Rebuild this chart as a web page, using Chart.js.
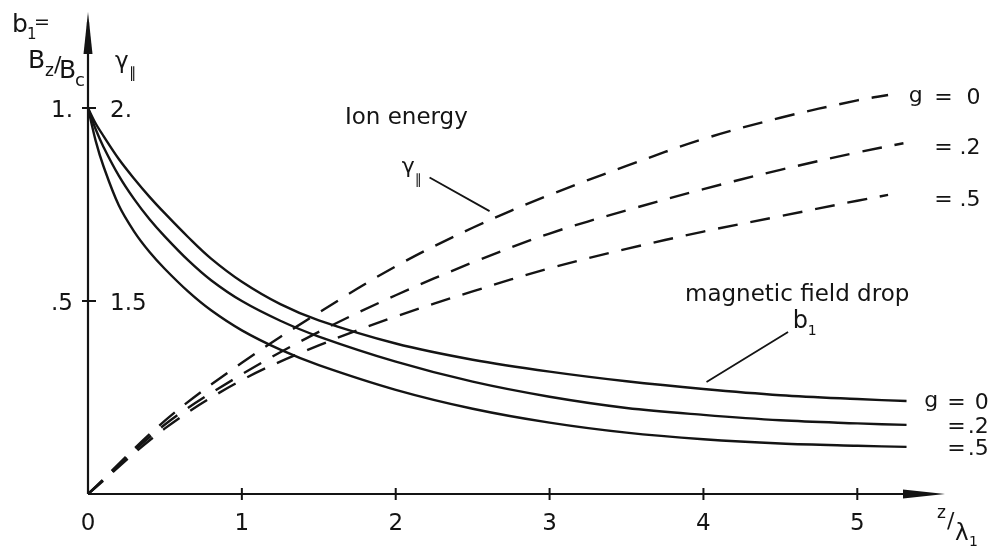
<!DOCTYPE html>
<html>
<head>
<meta charset="utf-8">
<title>Magnetic field drop and ion energy</title>
<script src="https://cdn.jsdelivr.net/npm/chart.js@4.4.0/dist/chart.umd.min.js"></script>
<style>
  html, body { margin: 0; padding: 0; background: #fff; }
  .chart-box { width: 989px; height: 549px; position: relative; }
</style>
</head>
<body>
<div class="chart-box"><canvas id="fieldChart"></canvas></div>
<script>
// z / lambda_1 positions of the magnetic field curves (solid)
const zField = [0, 0.05, 0.1, 0.2, 0.3, 0.4, 0.5, 0.65, 0.8, 1, 1.25, 1.5, 2, 2.5, 3, 3.5, 4, 4.5, 5, 5.32];
// b1 = Bz/Bc for g = 0, .2, .5
const fieldG0  = [1, 0.96, 0.928, 0.868, 0.817, 0.77, 0.727, 0.666, 0.61, 0.55, 0.492, 0.45, 0.39, 0.348, 0.317, 0.292, 0.272, 0.256, 0.246, 0.241];
const fieldG02 = [1, 0.945, 0.9, 0.825, 0.764, 0.712, 0.667, 0.606, 0.554, 0.5, 0.449, 0.408, 0.343, 0.291, 0.252, 0.223, 0.205, 0.191, 0.183, 0.179];
const fieldG05 = [1, 0.915, 0.85, 0.748, 0.68, 0.627, 0.583, 0.525, 0.476, 0.424, 0.374, 0.334, 0.27, 0.221, 0.185, 0.159, 0.142, 0.131, 0.125, 0.122];

// ion energy gamma_par (dashed), right hand scale
const zEnergyG0  = [0, 0.5, 1, 1.5, 2, 2.5, 3, 3.5, 4, 4.5, 5, 5.2];
const zEnergyG02 = [0, 0.5, 1, 1.5, 2, 2.5, 3, 3.5, 4, 4.5, 5, 5.3];
const zEnergyG05 = [0, 0.5, 1, 1.5, 2, 2.5, 3, 3.5, 4, 4.5, 5, 5.2];
const energyG0  = [1, 1.19, 1.34, 1.47, 1.59, 1.69, 1.775, 1.85, 1.92, 1.975, 2.02, 2.034];
const energyG02 = [1, 1.18, 1.31, 1.42, 1.515, 1.6, 1.675, 1.735, 1.79, 1.84, 1.885, 1.909];
const energyG05 = [1, 1.17, 1.295, 1.385, 1.46, 1.525, 1.585, 1.635, 1.68, 1.72, 1.76, 1.775];

// axes
const xTickValues = [0, 1, 2, 3, 4, 5];
const xTickLabels = ['0', '1', '2', '3', '4', '5'];
const bTickValues = [0.5, 1];
const bTickLabels = ['.5', '1.'];
const gammaTickLabels = ['1.5', '2.'];
const gValues = ['0', '.2', '.5'];

const INK = '#141414';
const FONT = '"DejaVu Sans", sans-serif';

function points(xs, ys) {
    return xs.map(function(x, i) { return { x: x, y: ys[i] }; });
}

function solid(data) {
    return { data: data, yAxisID: 'y', borderColor: INK, borderWidth: 2.4,
             pointRadius: 0, tension: 0.35, fill: false };
}

function dashed(data) {
    return { data: data, yAxisID: 'y2', borderColor: INK, borderWidth: 2.4,
             borderDash: [20, 13], pointRadius: 0, tension: 0.35, fill: false };
}

// one piece of text at a given size
function put(ctx, text, size, px, py) {
    ctx.font = size + 'px ' + FONT;
    ctx.fillText(text, px, py);
}

const handAxes = {
    id: 'handAxes',
    afterDraw(chart) {
        const ctx = chart.ctx;
        const xs = chart.scales.x, ys = chart.scales.y, y2 = chart.scales.y2;
        const X = function(v) { return xs.getPixelForValue(v); };
        const Y = function(v) { return ys.getPixelForValue(v); };
        const Y2 = function(v) { return y2.getPixelForValue(v); };
        const x0 = X(0), y0 = Y(0);
        const xEnd = X(xs.max), yEnd = Y(ys.max);

        ctx.save();
        ctx.strokeStyle = INK;
        ctx.fillStyle = INK;
        ctx.lineWidth = 2.2;

        // axis lines
        ctx.beginPath();
        ctx.moveTo(x0, y0); ctx.lineTo(x0, yEnd + 10);
        ctx.moveTo(x0, y0); ctx.lineTo(xEnd - 10, y0);
        ctx.stroke();

        // arrow heads
        ctx.beginPath();
        ctx.moveTo(x0, yEnd); ctx.lineTo(x0 - 4.5, yEnd + 42); ctx.lineTo(x0 + 4.5, yEnd + 42);
        ctx.closePath(); ctx.fill();
        ctx.beginPath();
        ctx.moveTo(xEnd, y0); ctx.lineTo(xEnd - 42, y0 - 4.5); ctx.lineTo(xEnd - 42, y0 + 4.5);
        ctx.closePath(); ctx.fill();

        // ticks
        ctx.lineWidth = 2;
        ctx.beginPath();
        xTickValues.slice(1).forEach(function(v) {
            ctx.moveTo(X(v), y0 - 6); ctx.lineTo(X(v), y0 + 6);
        });
        bTickValues.forEach(function(v) {
            ctx.moveTo(x0 - 6, Y(v)); ctx.lineTo(x0 + 8, Y(v));
        });
        ctx.stroke();

        // tick labels
        ctx.font = '23px ' + FONT;
        ctx.textBaseline = 'alphabetic';
        ctx.textAlign = 'center';
        xTickValues.forEach(function(v, i) {
            ctx.fillText(xTickLabels[i], X(v), y0 + 36);
        });
        bTickValues.forEach(function(v, i) {
            ctx.textAlign = 'right';
            ctx.fillText(bTickLabels[i], x0 - 15, Y(v) + 9);
            ctx.textAlign = 'left';
            ctx.fillText(gammaTickLabels[i], x0 + 22, Y(v) + 9);
        });

        // axis titles
        ctx.textAlign = 'left';
        put(ctx, 'b', 25, 12, 32);
        put(ctx, '1', 15, 27, 39);
        put(ctx, '=', 19, 34, 28);
        put(ctx, 'B', 25, 28, 68);
        put(ctx, 'z', 17, 45, 76);
        put(ctx, '/', 22, 54, 72);
        put(ctx, 'B', 25, 59, 78);
        put(ctx, 'c', 18, 75, 86);
        put(ctx, 'γ', 23, 115, 68);
        put(ctx, '∥', 15, 129, 78);
        put(ctx, 'z', 17, 937, 518);
        put(ctx, '/', 22, 947, 528);
        put(ctx, 'λ', 23, 955, 540);
        put(ctx, '1', 14, 969, 546);

        // annotations inside the plot
        put(ctx, 'Ion energy', 23, X(1.67), Y(0.96));
        put(ctx, 'γ', 22, X(2.04), Y(0.845) + 5);
        put(ctx, '∥', 14, X(2.04) + 13, Y(0.845) + 16);
        put(ctx, 'magnetic field drop', 23, X(3.88), Y(0.5));
        put(ctx, 'b', 24, X(4.58), Y(0.43));
        put(ctx, '1', 14, X(4.58) + 15, Y(0.43) + 7);

        ctx.lineWidth = 1.8;
        ctx.beginPath();
        ctx.moveTo(X(2.22), Y(0.82)); ctx.lineTo(X(2.61), Y(0.733));
        ctx.moveTo(X(4.55), Y(0.42)); ctx.lineTo(X(4.02), Y(0.29));
        ctx.stroke();

        // g labels at the line ends
        ctx.font = '22px ' + FONT;
        ctx.textBaseline = 'middle';
        const topEnds = [Y2(energyG0[energyG0.length - 1]), Y2(energyG02[energyG02.length - 1]), Y2(energyG05[energyG05.length - 1])];
        const botEnds = [Y(fieldG0[fieldG0.length - 1]), Y(fieldG02[fieldG02.length - 1]), Y(fieldG05[fieldG05.length - 1])];
        const topOff = [3, 5, 5];
        gValues.forEach(function(g, i) {
            const ty = topEnds[i] + topOff[i];
            const by = botEnds[i] + 2;
            if (i === 0) {
                ctx.textAlign = 'center';
                ctx.fillText('g', X(5.38), ty - 2);
                ctx.fillText('g', X(5.48), by - 2);
            }
            ctx.textAlign = 'center';
            ctx.fillText('=', X(5.56), ty);
            ctx.fillText('=', X(5.645), by);
            ctx.textAlign = 'right';
            ctx.fillText(g, X(5.80), ty);
            ctx.fillText(g, X(5.855), by);
        });
        ctx.restore();
    }
};

const ctxField = document.getElementById('fieldChart').getContext('2d');
const fieldChart = new Chart(ctxField, {
    type: 'line',
    data: {
        datasets: [
            solid(points(zField, fieldG0)),
            solid(points(zField, fieldG02)),
            solid(points(zField, fieldG05)),
            dashed(points(zEnergyG0, energyG0)),
            dashed(points(zEnergyG02, energyG02)),
            dashed(points(zEnergyG05, energyG05))
        ]
    },
    options: {
        responsive: true,
        maintainAspectRatio: false,
        animation: false,
        layout: { padding: { left: 88, right: 44, top: 12, bottom: 55 } },
        plugins: { legend: { display: false }, tooltip: { enabled: false } },
        scales: {
            x: { type: 'linear', min: 0, max: 5.57, display: false },
            y: { type: 'linear', min: 0, max: 1.249, display: false },
            y2: { type: 'linear', min: 1, max: 2.249, display: false }
        }
    },
    plugins: [handAxes]
});
</script>
</body>
</html>
